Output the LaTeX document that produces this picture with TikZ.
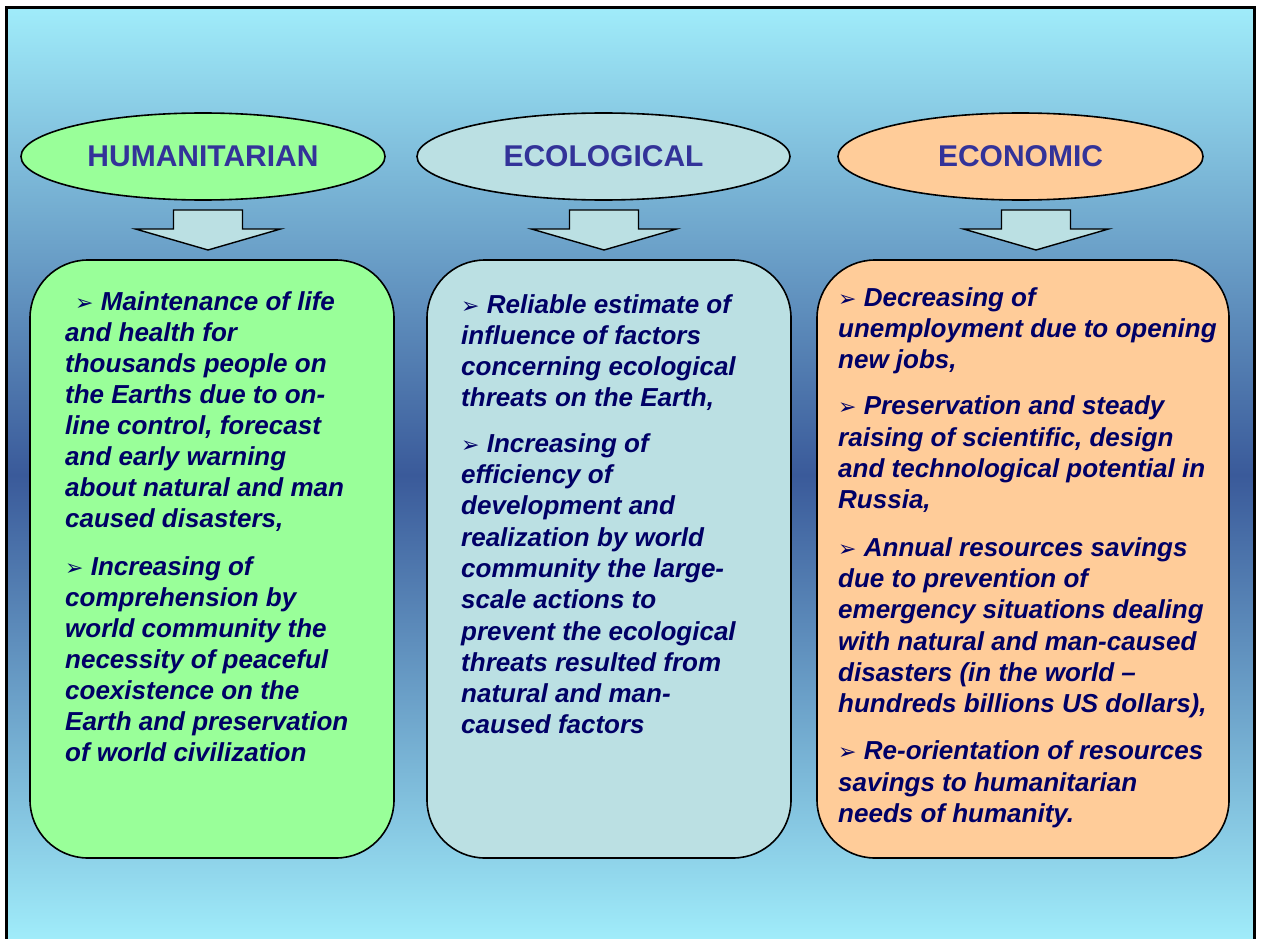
\documentclass[tikz,border=0pt]{standalone}
\usepackage{fontspec}
\setmainfont{Liberation Sans}
\newfontfamily\bulletfont{DejaVu Sans}
\usepackage{tikz}
\usetikzlibrary{shapes.geometric, positioning}
\definecolor{humgreen}{HTML}{99FF99}
\definecolor{ecoteal}{HTML}{BBE0E3}
\definecolor{econorange}{HTML}{FFCC99}
\definecolor{titleblue}{HTML}{333399}
\definecolor{textnavy}{HTML}{000066}
\definecolor{skylight}{HTML}{A0ECFA}
\definecolor{skydark}{HTML}{3A5A9A}
\newcommand{\bul}{{\bulletfont\fontsize{22}{22}\selectfont\textup{➢}}\ }

\tikzset{
  header/.style={ellipse, draw, line width=1.6, minimum width=364, minimum height=87, inner sep=0,
    text=titleblue, font=\fontsize{30}{30}\selectfont\bfseries},
  panel/.style={rectangle, draw, line width=1.6, rounded corners=58, minimum height=598, inner sep=0},
  bodytext/.style={anchor=north west, inner sep=0, align=left, text=textnavy,
    font=\fontsize{26}{31.3}\selectfont\bfseries\itshape},
  blockdown/.pic={
    \draw[line width=1.4, fill=ecoteal] (0,0) -- (72.5,-21) -- (34.5,-21) -- (34.5,-40)
      -- (-34.5,-40) -- (-34.5,-21) -- (-72.5,-21) -- cycle;
  }
}

\begin{document}
\begin{tikzpicture}[x=1pt, y=-1pt]
  \useasboundingbox (0,0) rectangle (1263,939);
  % sky background
  \shade[top color=skylight, bottom color=skydark] (6,8) rectangle (1254.5,475);
  \shade[top color=skydark, bottom color=skylight] (6,475) rectangle (1254.5,939);
  \draw[line width=3] (6,945) -- (6,8) -- (1254.5,8) -- (1254.5,945);

  % headers
  \node[header, fill=humgreen] (hum) at (203,156.5) {HUMANITARIAN};
  \node[header, fill=ecoteal, minimum width=373] (eco) at (603.5,156.5) {ECOLOGICAL};
  \node[header, fill=econorange, minimum width=365] (econ) at (1020.5,156.5) {ECONOMIC};

  % arrows
  \pic at (208,250) {blockdown};
  \pic at (604,250) {blockdown};
  \pic at (1036,250) {blockdown};

  % panels
  \node[panel, fill=humgreen, minimum width=364] (humbox) at (212,559) {};
  \node[panel, fill=ecoteal, minimum width=364] (ecobox) at (609,559) {};
  \node[panel, fill=econorange, minimum width=412] (econbox) at (1023,559) {};

  \node[bodytext, font=\fontsize{26}{31}\selectfont\bfseries\itshape] (humtext) at (65,291) {\hspace{10pt}\bul Maintenance of life\\
    and health for\\ thousands people on\\ the Earths due to on-\\ line control, forecast\\
    and early warning\\ about natural and man\\ caused disasters,\\[17pt]
    \bul Increasing of\\ comprehension by\\ world community the\\ necessity of peaceful\\
    coexistence on the\\ Earth and preservation\\ of world civilization};

  \node[bodytext] (ecotext) at (461,294) {\bul Reliable estimate of\\ influence of factors\\
    concerning ecological\\ threats on the Earth,\\[14pt]
    \bul Increasing of\\ efficiency of\\ development and\\ realization by world\\
    community the large-\\ scale actions to\\ prevent the ecological\\ threats resulted from\\
    natural and man-\\ caused factors};

  \node[bodytext] (econtext) at (838,287) {\bul Decreasing of\\ unemployment due to opening\\
    new jobs,\\[15pt]
    \bul Preservation and steady\\ raising of scientific, design\\ and technological potential in\\
    Russia,\\[16pt]
    \bul Annual resources savings\\ due to prevention of\\ emergency situations dealing\\
    with natural and man-caused\\ disasters (in the world --\\ hundreds billions US dollars),\\[16pt]
    \bul Re-orientation of resources\\ savings to humanitarian\\ needs of humanity.};
\end{tikzpicture}
\end{document}
